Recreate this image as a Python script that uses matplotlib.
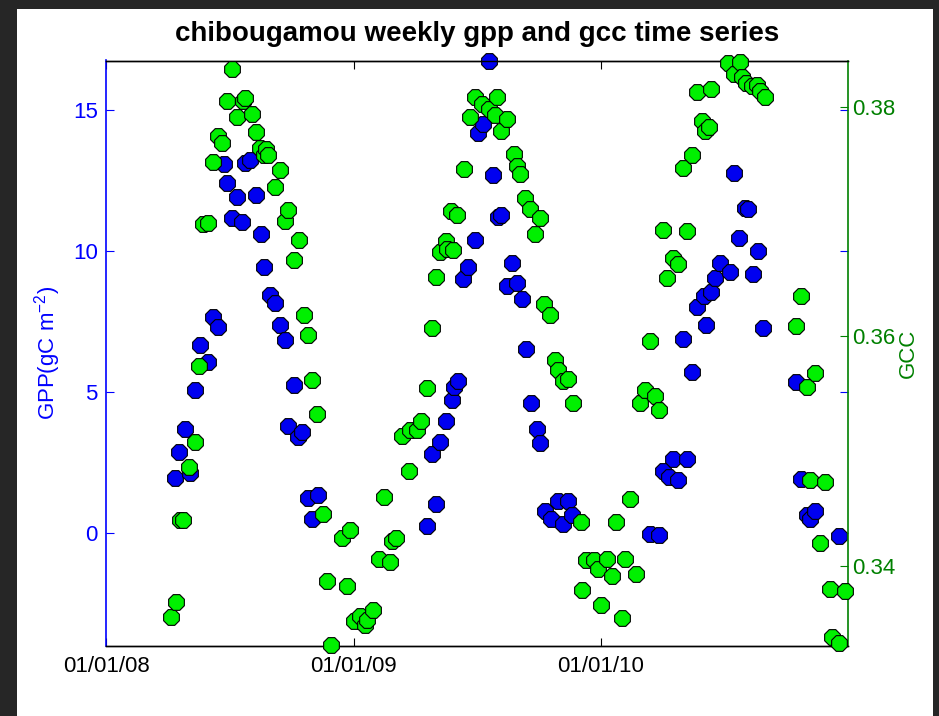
import numpy as np
import matplotlib
matplotlib.use('Agg')
import matplotlib.pyplot as plt
import matplotlib.dates as mdates
from matplotlib.patches import Rectangle

start = '2008-01-01'

# GPP (blue) – day offset from start, value
gpp_day = [102, 108, 116, 124, 131, 139, 151, 158, 166, 174, 178, 186, 193, 201, 206,
           213, 222, 229, 234, 242, 249, 257, 264, 269, 277, 284, 290, 298, 304, 313,
           474, 481, 487, 493, 502, 511, 514, 520, 527, 535, 545, 550, 557, 565, 572,
           579, 584, 592, 599, 607, 614, 621, 628, 636, 641, 648, 658, 668, 675, 683, 688,
           804, 817, 823, 831, 838, 845, 853, 858, 866, 873, 884, 886, 894, 899, 907,
           922, 928, 935, 944, 948, 956, 963, 971, 1019, 1027, 1035, 1040, 1047, 1082]
gpp_val = [1.95, 2.89, 3.69, 2.15, 5.09, 6.67, 6.08, 7.66, 7.33, 13.09, 12.43, 11.17, 11.93, 11.05, 13.13,
           13.24, 12.0, 10.63, 9.45, 8.45, 8.18, 7.39, 6.84, 3.81, 5.27, 3.41, 3.60, 1.26, 0.51, 1.37,
           0.25, 2.82, 1.02, 3.23, 3.98, 4.73, 5.20, 5.41, 9.01, 9.46, 10.40, 14.20, 14.53, 16.75, 12.71,
           11.22, 11.28, 8.78, 9.59, 8.88, 8.30, 6.52, 4.62, 3.71, 3.19, 0.79, 0.52, 1.13, 0.32, 1.13, 0.66,
           -0.02, -0.06, 2.22, 2.01, 2.62, 1.88, 6.88, 2.62, 5.71, 8.01, 8.42, 7.39, 8.56, 9.05, 9.59,
           9.25, 12.77, 10.47, 11.55, 11.49, 9.18, 10.0, 7.29, 5.35, 1.94, 0.66, 0.52, 0.79, -0.09]

# GCC (green) – day offset from start, value
gcc_day = [96, 103, 109, 114, 123, 131, 138, 144, 151, 158, 166, 171, 179, 186, 193,
           203, 206, 215, 222, 227, 233, 237, 240, 250, 257, 265, 269, 277, 285, 293,
           298, 305, 312, 321, 327, 332, 349, 356, 360, 366,
           375, 383, 386, 395, 403, 411, 419, 423, 428, 437, 447, 449, 459, 466, 474,
           482, 487, 493, 502, 504, 510, 513, 518, 529, 538, 545, 555, 565, 575, 577,
           584, 592, 602, 607, 612, 619, 626, 634, 641, 647, 656, 663, 668, 675, 683,
           690, 702, 703, 709, 721, 727,
           731, 740, 747, 754, 762, 767, 774, 783, 789, 796, 803, 811, 817, 822, 829,
           838, 845, 853, 858, 865, 873, 880, 885, 891, 894, 919, 927, 936, 939, 946,
           954, 961, 966, 973, 1019, 1027, 1035, 1040, 1047, 1055, 1062, 1069, 1072, 1082, 1091]
gcc_val = [0.3355, 0.3368, 0.3440, 0.3440, 0.3486, 0.3508, 0.3574, 0.3698, 0.3699, 0.3752, 0.3775, 0.3769, 0.3805, 0.3833, 0.3791,
           0.3805, 0.3808, 0.3794, 0.3778, 0.3764, 0.3758, 0.3763, 0.3758, 0.3730, 0.3745, 0.3701, 0.3710, 0.3667, 0.3684, 0.3619,
           0.3601, 0.3562, 0.3532, 0.3445, 0.3387, 0.3331, 0.3424, 0.3382, 0.3431, 0.3352,
           0.3356, 0.3348, 0.3353, 0.3361, 0.3406, 0.3460, 0.3403, 0.3422, 0.3424, 0.3513, 0.3483, 0.3518, 0.3518, 0.3526, 0.3555,
           0.3607, 0.3652, 0.3674, 0.3683, 0.3676, 0.3709, 0.3675, 0.3706, 0.3746, 0.3791, 0.3809, 0.3803, 0.3798, 0.3793, 0.3809,
           0.3779, 0.3790, 0.3759, 0.3749, 0.3742, 0.3721, 0.3711, 0.3689, 0.3703, 0.3628, 0.3619, 0.3579, 0.3571, 0.3561, 0.3563,
           0.3542, 0.3438, 0.3379, 0.3405, 0.3405, 0.3397,
           0.3366, 0.3406, 0.3391, 0.3438, 0.3354, 0.3406, 0.3458, 0.3393, 0.3542, 0.3553, 0.3596, 0.3548, 0.3536, 0.3693, 0.3651,
           0.3668, 0.3663, 0.3747, 0.3692, 0.3758, 0.3813, 0.3788, 0.3779, 0.3783, 0.3816, 0.3838, 0.3829, 0.3839, 0.3826, 0.3821,
           0.3818, 0.3819, 0.3814, 0.3809, 0.3609, 0.3635, 0.3556, 0.3475, 0.3568, 0.3420, 0.3473, 0.3380, 0.3338, 0.3333, 0.3378]

xtick_dates = ['2008-01-01', '2009-01-01', '2010-01-01']
x_end = '2011-01-01'
gpp_ticks = [0, 5, 10, 15]
gcc_ticks = [0.34, 0.36, 0.38]
gpp_lim = (-4.0, 16.77)
gcc_lim = (0.3330, 0.38406)

title = 'chibougamou weekly gpp and gcc time series'
gpp_label = 'GPP(gC m$^{-2}$)'
gcc_label = 'GCC'

plt.rcParams['font.family'] = ['Liberation Sans', 'DejaVu Sans']
plt.rcParams['mathtext.fontset'] = 'custom'
plt.rcParams['mathtext.rm'] = 'Liberation Sans'
plt.rcParams['mathtext.it'] = 'Liberation Sans'
plt.rcParams['mathtext.default'] = 'regular'

BLUE = '#0000ff'
DGREEN = '#008000'
W, H = 939, 716

fig = plt.figure(figsize=(W / 100, H / 100), dpi=100)
fig.patch.set_facecolor('#262626')
fig.add_artist(Rectangle((17 / W, 0), (933 - 17) / W, (716 - 9) / H,
                         transform=fig.transFigure, facecolor='white',
                         edgecolor='none', zorder=-10))

ax = fig.add_axes([106 / W, 1 - 646 / H, (848 - 106) / W, (646 - 60.5) / H])
ax2 = ax.twinx()

t0 = np.datetime64(start)
gpp_x = t0 + np.array(gpp_day).astype('timedelta64[D]')
gcc_x = t0 + np.array(gcc_day).astype('timedelta64[D]')

ax.scatter(gpp_x, gpp_val, s=150, marker='8', facecolor='#0000f0',
           edgecolor='black', linewidth=0.8, clip_on=False, zorder=3)
ax2.scatter(gcc_x, gcc_val, s=150, marker='8', facecolor='#00f000',
            edgecolor='black', linewidth=0.8, clip_on=False, zorder=3)

ax.set_xlim(np.datetime64(xtick_dates[0]), np.datetime64(x_end))
ax.set_xticks(np.array(xtick_dates, dtype='datetime64[D]'))
ax.xaxis.set_major_formatter(mdates.DateFormatter('%m/%d/%y'))
ax.set_ylim(*gpp_lim)
ax.set_yticks(gpp_ticks)
ax2.set_ylim(*gcc_lim)
ax2.set_yticks(gcc_ticks)
ax2.set_yticklabels([f'{v:.2f}' for v in gcc_ticks])

ax.tick_params(axis='x', which='both', direction='in', top=True, bottom=True,
               length=6, width=0.8, color='black', labelcolor='black',
               labelsize=16, pad=7)
ax.tick_params(axis='y', which='both', direction='in', left=True, right=True,
               length=6, width=0.8, color=BLUE, labelcolor=BLUE,
               labelsize=16, pad=6, labelright=False)
ax2.tick_params(axis='y', which='both', direction='in', left=False, right=True,
                length=6, width=0.8, color=DGREEN, labelcolor=DGREEN,
                labelsize=16, pad=3)

for a in (ax, ax2):
    for s in ('top', 'bottom'):
        a.spines[s].set_color('black')
        a.spines[s].set_linewidth(1.0)
ax.spines['left'].set_color(BLUE)
ax.spines['left'].set_linewidth(1.2)
ax.spines['right'].set_visible(False)
ax2.spines['left'].set_visible(False)
ax2.spines['right'].set_color(DGREEN)
ax2.spines['right'].set_linewidth(1.2)

ax.set_ylabel(gpp_label, color=BLUE, fontsize=16)
ax.yaxis.set_label_coords(-0.058, 0.5)
ax2.set_ylabel(gcc_label, color=DGREEN, fontsize=16)
ax2.yaxis.set_label_coords(1.067, 0.5)

ax.set_title(title, fontsize=20, fontweight='bold', pad=14)

fig.savefig('out.png', dpi=100, facecolor=fig.get_facecolor())
